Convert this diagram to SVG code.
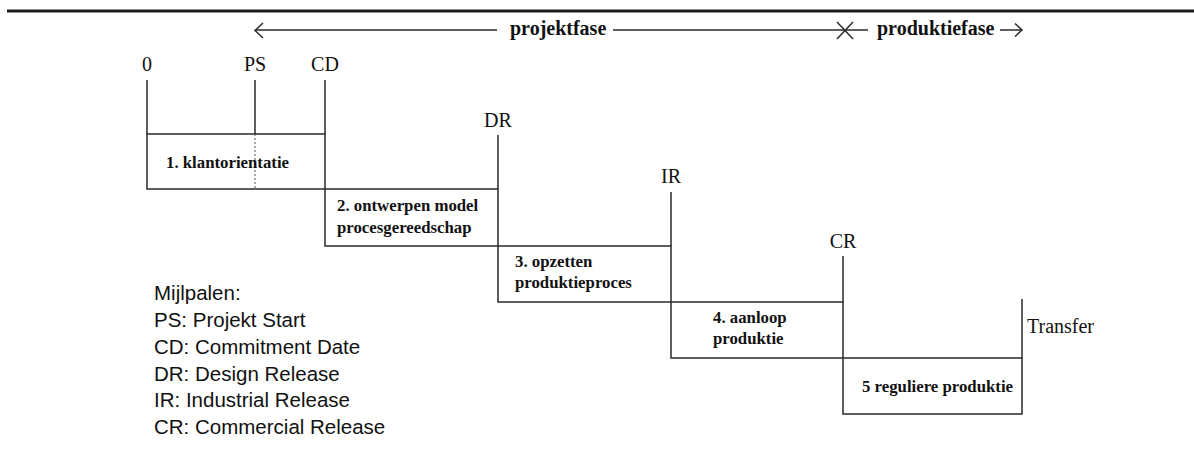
<svg xmlns="http://www.w3.org/2000/svg" width="1194" height="468" viewBox="0 0 1194 468">
  <style>
    .ln { stroke: #2a2a2a; stroke-width: 1.5; fill: none; }
    .box { stroke: #2a2a2a; stroke-width: 1.5; fill: #ffffff; }
    .ms { font-family: "Liberation Serif", "Times New Roman", serif; font-size: 20px; fill: #111; text-anchor: middle; }
    .phase { font-family: "Liberation Serif", "Times New Roman", serif; font-size: 20px; font-weight: bold; fill: #111; }
    .bt { font-family: "Liberation Serif", "Times New Roman", serif; font-size: 16.8px; font-weight: bold; fill: #111; }
    .leg { font-family: "Liberation Sans", Arial, sans-serif; font-size: 20.5px; fill: #111; }
  </style>
  <rect width="1194" height="468" fill="#ffffff"/>

  <!-- heavy rule across the top -->
  <line x1="7" y1="11" x2="1194" y2="11" stroke="#1a1a1a" stroke-width="3"/>

  <!-- phase bar: projektfase / produktiefase -->
  <g id="phase-bar">
    <line class="ln" x1="255" y1="30" x2="497" y2="30"/>
    <polyline class="ln" points="263,23 255,30.5 263,38"/>
    <text class="phase" x="510" y="35">projektfase</text>
    <line class="ln" x1="613" y1="30" x2="868" y2="30"/>
    <line class="ln" x1="837" y1="22" x2="853" y2="39"/>
    <line class="ln" x1="837" y1="39" x2="853" y2="22"/>
    <text class="phase" x="877" y="35">produktiefase</text>
    <line class="ln" x1="1000" y1="30" x2="1022" y2="30"/>
    <polyline class="ln" points="1015,23.5 1022,30 1015,36.5"/>
  </g>

  <!-- phase boxes -->
  <g id="phase-1">
    <rect class="box" x="147" y="134" width="178" height="55"/>
    <line x1="255" y1="134" x2="255" y2="189" stroke="#555" stroke-width="1" stroke-dasharray="2,2"/>
    <text class="bt" x="166" y="168">1. klantorientatie</text>
  </g>
  <g id="phase-2">
    <rect class="box" x="325" y="189" width="173" height="57"/>
    <text class="bt" x="337" y="211">2. ontwerpen model</text>
    <text class="bt" x="337" y="233">procesgereedschap</text>
  </g>
  <g id="phase-3">
    <rect class="box" x="498" y="246" width="173" height="56"/>
    <text class="bt" x="515" y="267">3. opzetten</text>
    <text class="bt" x="515" y="288">produktieproces</text>
  </g>
  <g id="phase-4">
    <rect class="box" x="671" y="302" width="172" height="56"/>
    <text class="bt" x="713" y="323">4. aanloop</text>
    <text class="bt" x="713" y="344">produktie</text>
  </g>
  <g id="phase-5">
    <rect class="box" x="843" y="358" width="179" height="56"/>
    <text class="bt" x="862" y="392">5 reguliere produktie</text>
  </g>

  <!-- milestone ticks and labels -->
  <g id="connectors">
    <line class="ln" x1="147" y1="80" x2="147" y2="134"/>
    <line class="ln" x1="255" y1="80" x2="255" y2="134"/>
    <line class="ln" x1="325" y1="80" x2="325" y2="134"/>
    <line class="ln" x1="498" y1="135" x2="498" y2="189"/>
    <line class="ln" x1="671" y1="192" x2="671" y2="246"/>
    <line class="ln" x1="843" y1="256" x2="843" y2="302"/>
    <line class="ln" x1="1022" y1="299" x2="1022" y2="358"/>
  </g>
  <g id="ms-0"><text class="ms" x="147" y="71">0</text></g>
  <g id="ms-ps"><text class="ms" x="255" y="71">PS</text></g>
  <g id="ms-cd"><text class="ms" x="325" y="71">CD</text></g>
  <g id="ms-dr"><text class="ms" x="498" y="127">DR</text></g>
  <g id="ms-ir"><text class="ms" x="671" y="183">IR</text></g>
  <g id="ms-cr"><text class="ms" x="843" y="248">CR</text></g>
  <g id="ms-transfer"><text class="ms" x="1027" y="333" text-anchor="start" style="text-anchor:start">Transfer</text></g>

  <!-- legend -->
  <g id="legend">
    <text class="leg" x="154" y="300">Mijlpalen:</text>
    <text class="leg" x="154" y="327">PS: Projekt Start</text>
    <text class="leg" x="154" y="354">CD: Commitment Date</text>
    <text class="leg" x="154" y="381">DR: Design Release</text>
    <text class="leg" x="154" y="407">IR: Industrial Release</text>
    <text class="leg" x="154" y="434">CR: Commercial Release</text>
  </g>
</svg>
